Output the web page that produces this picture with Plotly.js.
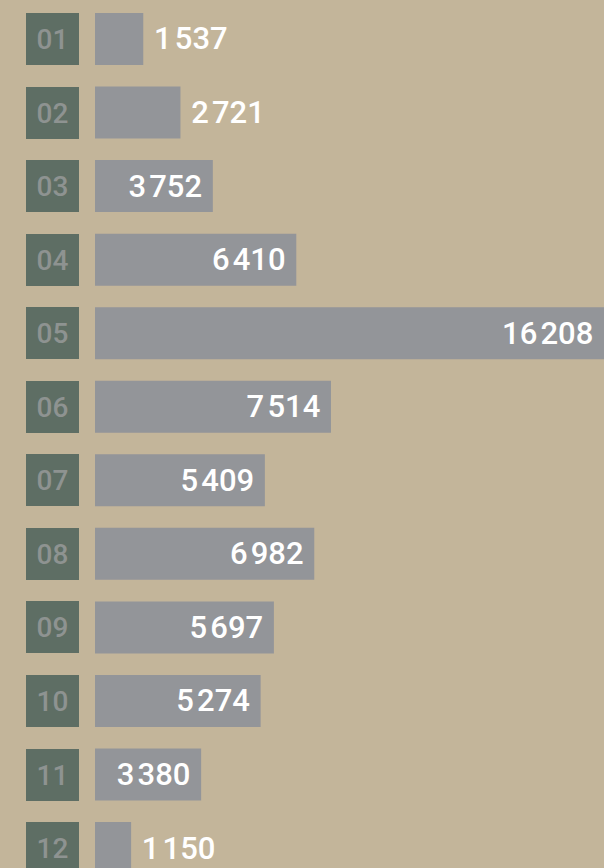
<!DOCTYPE html>
<html><head><meta charset="utf-8">
<script src="https://cdn.plot.ly/plotly-3.0.1.min.js"></script>
<style>html,body{margin:0;padding:0;background:#C3B59A;}</style>
</head><body>
<div id="chart" style="width:604px;height:868px;"></div>
<script>
const categories = ['01','02','03','04','05','06','07','08','09','10','11','12'];
const values = [1537, 2721, 3752, 6410, 16208, 7514, 5409, 6982, 5697, 5274, 3380, 1150];

const trace = {
  type: 'bar',
  orientation: 'h',
  y: categories.map((c, i) => i),
  x: values,
  marker: {color: '#939599', line: {width: 0}},
  texttemplate: '\u00a0%{x:,}\u00a0',
  textposition: 'auto',
  insidetextanchor: 'end',
  constraintext: 'none',
  cliponaxis: true,
  textfont: {family: 'Roboto', size: 31, color: '#ffffff', weight: 500},
  insidetextfont: {family: 'Roboto', size: 31, color: '#ffffff', weight: 500},
  outsidetextfont: {family: 'Roboto', size: 31, color: '#ffffff', weight: 500},
  hoverinfo: 'none'
};

const annotations = categories.map((c, i) => ({
  xref: 'paper', yref: 'y', x: -0.0835, y: i,
  xanchor: 'center', yanchor: 'middle',
  text: c, showarrow: false,
  width: 53, height: 52, borderpad: 0, borderwidth: 0,
  bgcolor: '#5E6E64', align: 'center', valign: 'middle',
  font: {family: 'Roboto', size: 28, color: '#8E9391', weight: 500}
}));

const layout = {
  width: 604, height: 868,
  margin: {l: 95, r: 0, t: 0, b: 0, pad: 0},
  paper_bgcolor: '#C3B59A', plot_bgcolor: '#C3B59A',
  separators: '.\u200A',
  bargap: 0.293,
  showlegend: false,
  xaxis: {range: [0, 16208], showgrid: false, zeroline: false, showticklabels: false, showline: false, fixedrange: true},
  yaxis: {range: [11.271, -0.530], showgrid: false, zeroline: false, showticklabels: false, showline: false, fixedrange: true},
  annotations: annotations
};

Plotly.newPlot('chart', [trace], layout, {displayModeBar: false, staticPlot: true});
</script>
</body></html>
